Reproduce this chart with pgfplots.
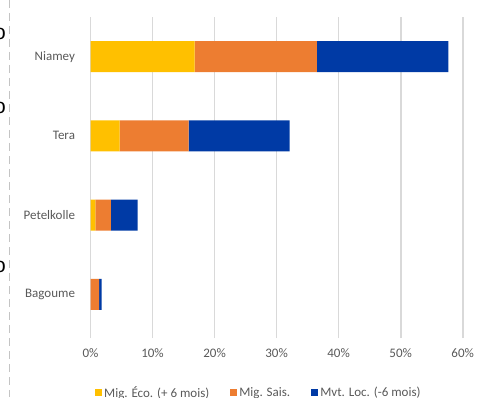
\documentclass[border=0pt]{standalone}
\usepackage{fontspec}
\setmainfont{Carlito}
\newfontfamily\arialf{Liberation Sans}
\usepackage{pgfplots}
\pgfplotsset{compat=1.18}
\definecolor{cEco}{HTML}{FFC000}
\definecolor{cSais}{HTML}{ED7D31}
\definecolor{cLoc}{HTML}{003AA5}
\definecolor{cGrid}{HTML}{D9D9D9}
\definecolor{cText}{HTML}{595959}
\definecolor{cDash}{HTML}{C4C4C4}
\begin{document}
\begin{tikzpicture}
\useasboundingbox (0,0) rectangle (479pt,397pt);
\draw[cDash, line width=1pt, dash pattern=on 8pt off 5pt] (9.5pt,397pt) -- (9.5pt,0pt);
\node[font=\arialf\fontsize{21}{21}\selectfont, inner sep=0pt] at (0pt,363pt) {o};
\node[font=\arialf\fontsize{21}{21}\selectfont, inner sep=0pt] at (0pt,289pt) {o};
\node[font=\arialf\fontsize{21}{21}\selectfont, inner sep=0pt] at (0pt,130pt) {o};
\begin{axis}[
  at={(90.5pt,63pt)}, anchor=south west,
  scale only axis, width=372.2pt, height=317pt,
  xbar stacked, bar width=31pt,
  xmin=0, xmax=60, ymin=-0.5, ymax=3.5,
  xtick={0,10,20,30,40,50,60},
  xticklabel={\pgfmathprintnumber{\tick}\%},
  ytick={0,1,2,3},
  yticklabels={Bagoume,Petelkolle,Tera,Niamey},
  axis line style={draw=none},
  xmajorgrids, grid style={cGrid, line width=1.7pt},
  xtick pos=bottom, tick align=outside, major tick length=4pt,
  xtick style={cGrid, line width=1.7pt},
  ytick style={draw=none},
  tick label style={font=\fontsize{13}{15}\selectfont, text=cText},
  /pgf/number format/assume math mode=true,
  xticklabel style={yshift=-7pt},
  yticklabel style={xshift=-8pt},
  legend columns=3,
  legend style={draw=none, fill=none, at={(0.012,-0.186)}, anchor=west,
    font=\fontsize{13}{15}\selectfont, text=cText,
    /tikz/every even column/.append style={column sep=19pt},
    inner sep=0pt},
  legend cell align=left,
  legend image code/.code={\fill[#1] (0pt,-3.5pt) rectangle (7pt,3.5pt);},
]
\addplot[fill=cEco, draw=none] coordinates {(0,0) (0.8,1) (4.7,2) (16.8,3)};
\addplot[fill=cSais, draw=none] coordinates {(1.4,0) (2.5,1) (11.1,2) (19.7,3)};
\addplot[fill=cLoc, draw=none] coordinates {(0.4,0) (4.3,1) (16.3,2) (21.2,3)};
\legend{Mig. Éco. (+ 6 mois),Mig. Sais.,Mvt. Loc. (-6 mois)}
\end{axis}
\end{tikzpicture}
\end{document}
